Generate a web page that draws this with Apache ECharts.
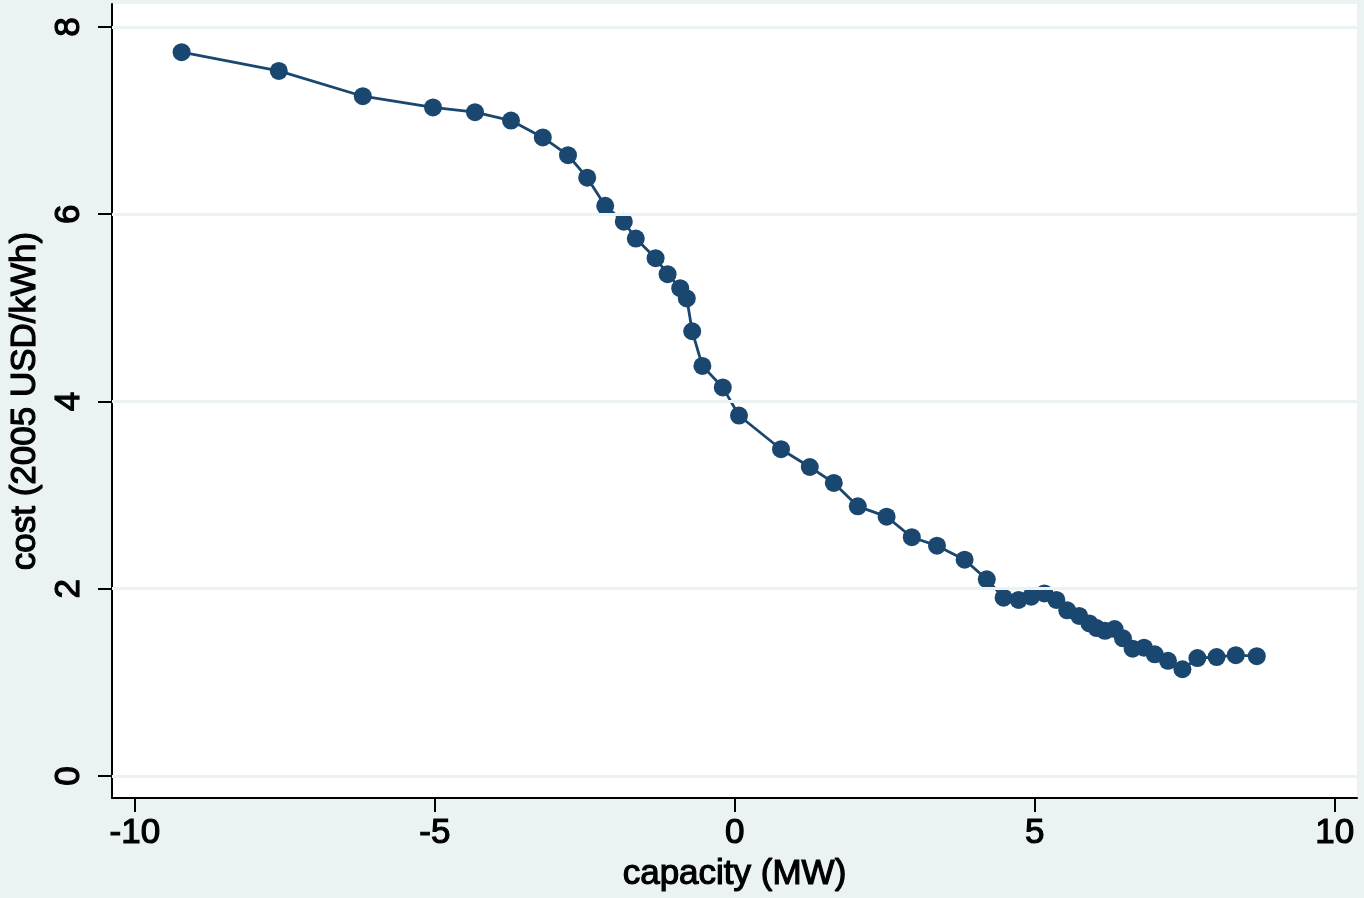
<!DOCTYPE html>
<html>
<head>
<meta charset="utf-8">
<script src="https://cdn.jsdelivr.net/npm/echarts@6/dist/echarts.min.js"></script>
<style>
html,body{margin:0;padding:0;background:#eaf2f3;}
#chart{width:1364px;height:898px;}
</style>
</head>
<body>
<div id="chart"></div>
<script>
const capacity = [-9.22,-7.6,-6.2,-5.03,-4.33,-3.73,-3.2,-2.78,-2.46,-2.16,-1.85,-1.65,-1.32,-1.12,-0.91,-0.8,-0.71,-0.54,-0.2,0.07,0.77,1.25,1.65,2.05,2.53,2.95,3.37,3.83,4.2,4.48,4.73,4.94,5.16,5.36,5.54,5.74,5.91,6.03,6.17,6.33,6.47,6.63,6.82,7.0,7.22,7.46,7.71,8.03,8.35,8.70];
const cost = [7.73,7.53,7.26,7.14,7.09,7.0,6.82,6.63,6.39,6.09,5.92,5.74,5.53,5.36,5.21,5.1,4.75,4.38,4.15,3.85,3.49,3.3,3.13,2.88,2.77,2.55,2.46,2.31,2.1,1.905,1.88,1.915,1.95,1.88,1.77,1.71,1.63,1.58,1.55,1.57,1.47,1.36,1.37,1.3,1.23,1.14,1.26,1.27,1.29,1.28];
const xTicks = [-10,-5,0,5,10];
const yTicks = [0,2,4,6,8];
const xName = 'capacity (MW)';
const yName = 'cost (2005 USD/kWh)';

const points = capacity.map((c,i)=>[c,cost[i]]);
const font = '"Liberation Sans", Arial, Helvetica, sans-serif';
const txt = {fontFamily:font, fontSize:35, color:'#000', textBorderColor:'#000', textBorderWidth:1.2};
const chart = echarts.init(document.getElementById('chart'));
chart.setOption({
  backgroundColor: '#eaf2f3',
  animation: false,
  grid: {left:112, right:7, top:4, bottom:100, show:true, backgroundColor:'#ffffff', borderWidth:0, containLabel:false, outerBoundsMode:'none'},
  xAxis: {
    type:'value', min:-10.38, max:10.37,
    name: xName, nameLocation:'middle', nameGap:56,
    nameTextStyle: txt,
    axisLine:{show:true, onZero:false, lineStyle:{color:'#000', width:2}},
    axisTick:{show:true, length:14, lineStyle:{color:'#000', width:2}, customValues: xTicks},
    axisLabel:Object.assign({margin:18, customValues: xTicks}, txt),
    splitLine:{show:false}
  },
  yAxis: {
    type:'value', min:-0.235, max:8.245,
    name: yName, nameLocation:'middle', nameGap:61, nameRotate:90,
    nameTextStyle: txt,
    axisLine:{show:true, onZero:false, lineStyle:{color:'#000', width:2}},
    axisTick:{show:true, length:14, lineStyle:{color:'#000', width:2}, customValues: yTicks},
    axisLabel:Object.assign({margin:25, rotate:90, customValues: yTicks}, txt),
    splitLine:{show:false}
  },
  series: [{
    type:'line',
    data: points,
    symbol:'circle', symbolSize:18,
    itemStyle:{color:'#1a476f'},
    lineStyle:{color:'#1a476f', width:2.8},
    markLine:{
      silent:true, symbol:'none', label:{show:false},
      lineStyle:{color:'#eaf2f3', width:3, type:'solid'},
      data: yTicks.map(v=>({yAxis:v}))
    },
    z:3
  }]
});
</script>
</body>
</html>
